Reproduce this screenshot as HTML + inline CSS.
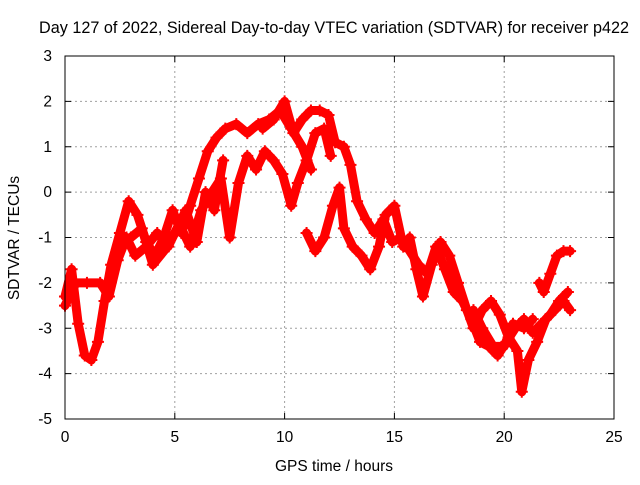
<!DOCTYPE html>
<html><head><meta charset="utf-8"><style>
body{margin:0;background:#fff;width:640px;height:480px;overflow:hidden}
text{font-family:"Liberation Sans",sans-serif;font-size:15.5px;fill:#000}
</style></head><body>
<svg id="chart" width="640" height="480" xmlns="http://www.w3.org/2000/svg">
<text x="334" y="33" text-anchor="middle" style="font-size:16.2px">Day 127 of 2022, Sidereal Day-to-day VTEC variation (SDTVAR) for receiver p422</text>
<text x="334" y="471" text-anchor="middle">GPS time / hours</text>
<text transform="translate(19,238) rotate(-90)" text-anchor="middle">SDTVAR / TECUs</text>
<g id="grid"></g><g id="series"></g>
<rect x="65" y="56" width="549" height="363" fill="none" stroke="#000" stroke-width="1"/>
</svg>
<script>
const xTicks=[0,5,10,15,20,25];
const yTicks=[3,2,1,0,-1,-2,-3,-4,-5];
const series1=[[0,-2.3],[0.3,-1.7],[0.6,-2.9],[0.9,-3.6],[1.2,-3.7],[1.5,-3.3],[1.8,-2.4],[2.1,-1.6],[2.5,-0.9],[2.9,-0.2],[3.3,-0.5],[3.7,-1.1],[4.1,-1.4],[4.5,-1.0],[4.9,-0.4],[5.3,-0.9],[5.7,-0.3],[6.1,0.3],[6.5,0.9],[6.9,1.2],[7.3,1.4],[7.8,1.5],[8.3,1.3],[8.8,1.5],[9.3,1.6],[9.8,1.8],[10.3,1.4],[10.8,1.0],[11.2,0.5]];
const series2=[[0,-2.5],[0.5,-2.0],[1,-2.0],[1.6,-2.0],[2.0,-2.3],[2.4,-1.5],[2.8,-1.0],[3.2,-1.4],[3.7,-1.2],[4.2,-0.9],[4.7,-1.2],[5.2,-0.7],[5.7,-1.2],[6.2,-0.4],[6.7,0.0],[7.1,0.3],[7.5,-1.0],[7.9,0.2],[8.3,0.8],[8.7,0.5],[9.1,0.9],[9.5,0.7],[9.9,0.4],[10.3,-0.3],[10.6,0.2],[11.0,0.7],[11.4,1.3],[11.8,1.4],[12.1,0.8]];
const series3=[[9.0,1.4],[9.5,1.6],[10,2.0],[10.4,1.3],[10.8,1.6],[11.2,1.8],[11.6,1.8],[12.0,1.7],[12.3,1.1],[12.7,1.0],[13.0,0.6],[13.3,-0.2],[13.7,-0.6],[14.1,-0.9],[14.5,-0.6],[14.9,-1.1],[15.3,-1.0],[15.7,-1.3],[16.1,-1.6],[16.5,-1.8],[16.9,-1.2],[17.3,-1.7],[17.7,-2.2],[18.1,-2.4],[18.5,-2.8],[18.9,-3.3],[19.3,-3.4],[19.7,-3.6],[20.1,-3.3],[20.5,-3.0],[20.9,-2.8],[21.3,-3.1],[21.7,-2.9],[22.1,-2.7],[22.5,-2.4],[22.9,-2.2]];
const series4=[[11.0,-0.9],[11.4,-1.3],[11.8,-1.0],[12.2,-0.3],[12.5,0.1],[12.7,-0.8],[13.1,-1.2],[13.5,-1.4],[13.9,-1.7],[14.3,-1.2],[14.6,-0.5],[15.0,-0.3],[15.4,-1.2],[15.7,-1.0],[16.0,-1.7],[16.3,-2.3],[16.7,-1.6],[17.1,-1.1],[17.5,-1.4],[17.9,-2.0],[18.3,-2.6],[18.6,-3.0],[19.0,-2.6],[19.4,-2.4],[19.8,-2.7],[20.2,-3.2],[20.6,-3.5],[20.8,-4.4],[21.1,-3.7],[21.5,-3.3],[21.9,-2.8],[22.3,-2.6],[22.7,-2.4],[23.0,-2.6]];
const series5=[[21.6,-2.0],[21.8,-2.2],[22.1,-1.8],[22.4,-1.4],[22.7,-1.3],[23.0,-1.3]];
const series6=[[18.6,-2.6],[19.0,-3.0],[19.5,-3.4],[20.0,-3.4],[20.4,-2.9],[20.9,-3.0],[21.3,-2.8]];
const series7=[[3.0,-1.0],[3.5,-0.8],[4.0,-1.6],[4.5,-1.3],[5.0,-0.9],[5.5,-0.4],[6.0,-1.1],[6.4,0.0],[6.8,-0.4],[7.2,0.7]];
const allSeries=[series1,series2,series3,series4,series5,series6,series7];
const NS='http://www.w3.org/2000/svg';
const X=v=>65+v*(549/25);
const Y=v=>56+(3-v)*(363/8);
const grid=document.getElementById('grid');
function mk(t,a,p){const e=document.createElementNS(NS,t);for(const k in a)e.setAttribute(k,a[k]);p.appendChild(e);return e;}
xTicks.forEach(t=>{
  if(t>0&&t<25){const g=mk('line',{x1:X(t),x2:X(t),y1:56,y2:419,stroke:'#a0a0a0','stroke-dasharray':'2,3'},grid);
  
  }
  mk('line',{x1:X(t),x2:X(t),y1:419,y2:413,stroke:'#000'},grid);
  mk('line',{x1:X(t),x2:X(t),y1:56,y2:62,stroke:'#000'},grid);
  const l=mk('text',{x:X(t),y:442,'text-anchor':'middle'},grid);l.textContent=t;
  
  
});
yTicks.forEach(t=>{
  if(t<3&&t>-5){const g=mk('line',{x1:65,x2:614,y1:Y(t),y2:Y(t),stroke:'#a0a0a0','stroke-dasharray':'2,3'},grid);
  
  }
  mk('line',{x1:65,x2:71,y1:Y(t),y2:Y(t),stroke:'#000'},grid);
  mk('line',{x1:614,x2:608,y1:Y(t),y2:Y(t),stroke:'#000'},grid);
  const l=mk('text',{x:52,y:Y(t)+5,'text-anchor':'end'},grid);l.textContent=t;
  
  
});
const sg=document.getElementById('series');
allSeries.forEach((s,i)=>{
  const pl=mk('polyline',{points:s.map(p=>X(p[0])+','+Y(p[1])).join(' '),fill:'none',stroke:'#ff0000','stroke-width':9,'stroke-linejoin':'round','stroke-linecap':'round'},sg);
  
  
  s.forEach(p=>{
    const m=mk('path',{d:`M${X(p[0])-6},${Y(p[1])}h12M${X(p[0])},${Y(p[1])-6}v12`,stroke:'#ff0000','stroke-width':2},sg);
    
    
  });
});
</script>
</body></html>
